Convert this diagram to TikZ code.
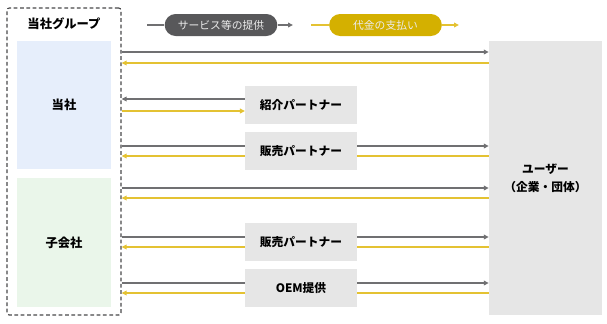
\documentclass[tikz,border=0pt]{standalone}
\usepackage{fontspec}
\setmainfont{Noto Sans CJK JP}
\usepackage{xcolor}
\usetikzlibrary{arrows.meta,positioning,calc}
\definecolor{Ink}{HTML}{58585A}
\definecolor{Dash}{HTML}{48484A}
\definecolor{LineGray}{HTML}{707072}
\definecolor{Gold}{HTML}{D4B000}
\definecolor{LineGold}{HTML}{E4C232}
\definecolor{BoxGray}{HTML}{E6E6E6}
\definecolor{PaleBlue}{HTML}{E6EEFB}
\definecolor{PaleGreen}{HTML}{EAF6EA}

\begin{document}
\begin{tikzpicture}[x=0.03cm,y=-0.03cm,
  node distance=0.24cm,
  groupbox/.style={draw=Dash,dash pattern=on 3.2pt off 2.2pt,rounded corners=2pt,line width=1pt,minimum width=3.42cm,minimum height=9.21cm,inner sep=0pt},
  companybox/.style={inner sep=0pt,minimum width=2.82cm,font=\bfseries\fontsize{10.5}{12}\selectfont},
  partnerbox/.style={fill=BoxGray,inner sep=0pt,outer sep=0pt,minimum width=3.36cm,minimum height=1.14cm,font=\bfseries\fontsize{10}{12}\selectfont},
  pill/.style={rounded corners=0.33cm,inner sep=0pt,minimum width=3.38cm,minimum height=0.66cm,text=white!92!black,font=\fontsize{9.2}{11}\selectfont},
  lineg/.style={line width=1.2pt,color=LineGray},
  liney/.style={line width=1.2pt,color=LineGold},
  arrg/.style={lineg,-{Triangle[length=1.5mm,width=1.4mm]}},
  arry/.style={liney,-{Triangle[length=1.5mm,width=1.4mm]}}]
  \useasboundingbox (0,0) rectangle (607,323);
  % legend
  \node[pill,fill=Ink] (svc) at (221,25) {サービス等の提供};
  \node[pill,fill=Gold] (pay) at (385.5,25) {代金の支払い};
  \coordinate (svcL) at (147,25); \coordinate (svcR) at (293,25);
  \coordinate (payL) at (311,25); \coordinate (payR) at (459,25);
  \draw[lineg] (svcL)--(svc); \draw[arrg] (svc)--(svcR);
  \draw[liney] (payL)--(pay); \draw[arry] (pay)--(payR);
  % group and user
  \node[groupbox] (grp) at (64,161.5) {};
  \node[font=\bfseries\fontsize{10.5}{12}\selectfont] (grptitle) at (64,24) {当社グループ};
  \node[companybox,fill=PaleBlue,minimum height=3.84cm] (tosha) at (64,105) {当社};
  \node[companybox,fill=PaleGreen,minimum height=3.87cm] (kogaisha) at (64,242.5) {子会社};
  \node[fill=BoxGray,inner sep=0pt,minimum width=3.39cm,minimum height=8.22cm,align=center,font=\bfseries\fontsize{10}{15.5}\selectfont] (user) at (545.5,178) {ユーザー\\（企業・団体）};
  % partners
  \node[partnerbox] (intro) at (301,105) {紹介パートナー};
  \node[partnerbox,below=of intro] (sales1) {販売パートナー};
  \node[partnerbox] (sales2) at (301,242) {販売パートナー};
  \node[partnerbox,below=of sales2] (oem) {OEM提供};
  \coordinate (row1) at (0,57.5); \coordinate (row2) at (0,193);
  % direct rows
  \draw[arrg] ($(grp.east|-row1)+(0,-5.5)$)--($(user.west|-row1)+(0,-5.5)$);
  \draw[arry] ($(user.west|-row1)+(0,5.5)$)--($(grp.east|-row1)+(0,5.5)$);
  \draw[arrg] ($(grp.east|-row2)+(0,-5)$)--($(user.west|-row2)+(0,-5)$);
  \draw[arry] ($(user.west|-row2)+(0,5)$)--($(grp.east|-row2)+(0,5)$);
  % introduction partner
  \draw[arrg] ($(intro.west)+(0,-6)$)--($(intro.west-|grp.east)+(0,-6)$);
  \draw[arry] ($(intro.west-|grp.east)+(0,6)$)--($(intro.west)+(0,6)$);
  % sales partners and OEM
  \foreach \p in {sales1,sales2,oem}{
    \draw[lineg] ($(\p.west-|grp.east)+(0,-5)$)--($(\p.west)+(0,-5)$);
    \draw[arrg] ($(\p.east)+(0,-5)$)--($(\p.east-|user.west)+(0,-5)$);
    \draw[liney] ($(\p.east-|user.west)+(0,5)$)--($(\p.east)+(0,5)$);
    \draw[arry] ($(\p.west)+(0,5)$)--($(\p.west-|grp.east)+(0,5)$);
  }
\end{tikzpicture}
\end{document}
